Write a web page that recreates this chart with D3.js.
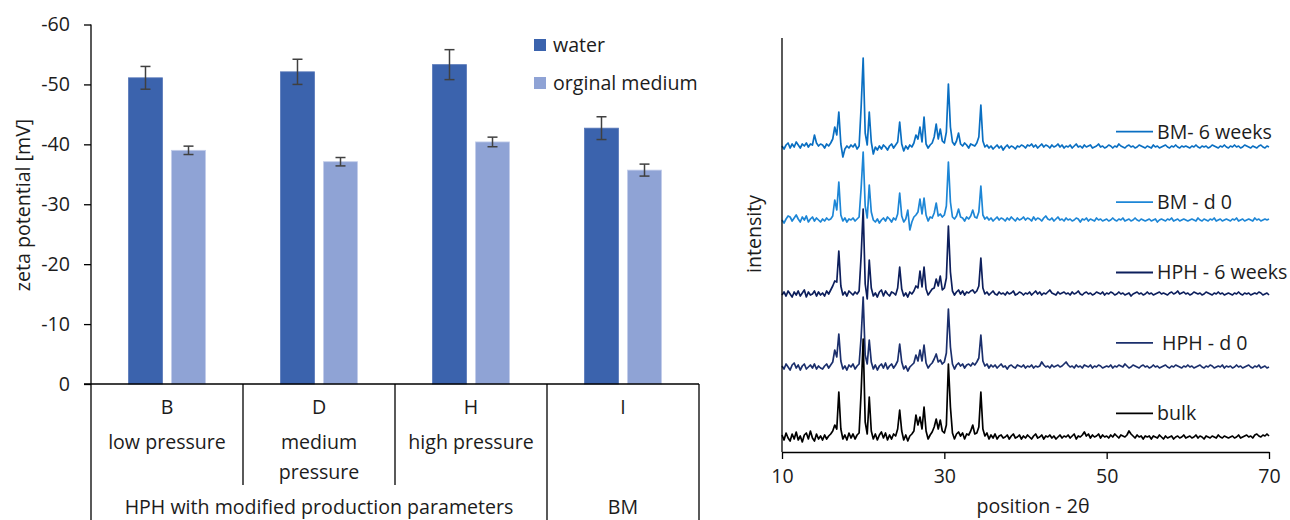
<!DOCTYPE html>
<html>
<head>
<meta charset="utf-8">
<script src="https://cdn.jsdelivr.net/npm/d3@7"></script>
<style>
  body { margin: 0; background: #fff; }
  svg { display: block; font-family: "Open Sans", sans-serif; }
</style>
</head>
<body>
<svg id="chart" width="1290" height="520"></svg>
<script>
// ---- zeta potential (left) ----
const categories = ["B", "D", "H", "I"];
const subLabels = [["low pressure"], ["medium", "pressure"], ["high pressure"], []];
const groupLabels = ["HPH with modified production parameters", "BM"];
const groupOfCategory = [0, 0, 0, 1];
const seriesNames = ["water", "orginal medium"];
const waterValues = [-51.1, -52.1, -53.3, -42.7];
const waterErrors = [1.9, 2.1, 2.5, 1.9];
const mediumValues = [-39.0, -37.1, -40.4, -35.7];
const mediumErrors = [0.7, 0.7, 0.8, 1.0];
const zetaTicks = [0, -10, -20, -30, -40, -50, -60];

// ---- XRD patterns (right), step 0.25° from 10° to 70° ----
const xrdStart = 10;
const xrdStep = 0.25;
const xrdTicks = [10, 30, 50, 70];
const traceNames = ["BM- 6 weeks", "BM - d 0", "HPH - 6 weeks", " HPH - d 0", "bulk"];
const traceOffsets = [305, 232, 158, 85, 15];

const bm6w = [
  1,-2,2,4,-1,3,0,5,2,-1,3,1,4,0,3,2,12,4,1,3,
  2,-1,3,1,4,8,20,12,35,3,-10,-2,1,-1,2,0,3,-2,1,40,
  89,14,2,35,5,-7,0,-3,1,-2,2,0,-3,1,3,-1,2,5,25,3,
  -4,1,-2,2,0,4,12,8,20,5,30,3,-1,2,4,10,23,8,18,6,
  4,15,63,20,5,2,6,14,3,1,4,2,-1,3,2,1,4,10,42,6,
  0,2,-1,1,-2,0,2,-1,1,-3,0,2,-1,1,0,-2,1,0,2,1,
  -1,2,1,3,0,2,-1,1,3,0,2,1,-1,2,0,1,3,0,2,-1,
  1,0,2,-1,1,3,0,1,-1,2,0,1,2,-1,0,1,3,0,1,-1,
  0,2,1,-1,1,0,3,1,0,-1,1,2,0,1,-1,0,2,1,0,-1,
  1,0,-1,2,0,1,-1,0,1,2,0,-1,1,0,2,0,-1,1,0,1,
  0,-1,1,0,2,0,-1,1,0,1,-1,0,2,1,0,-1,1,0,2,0,
  -1,1,0,2,0,1,-1,0,2,1,0,-1,1,0,-1,1,2,0,-1,1,
  0
];
const bmd0 = [
  0,-3,1,4,3,-1,2,5,1,-2,3,0,4,-2,1,3,-1,2,0,-2,
  1,-1,2,0,1,4,20,10,38,5,-1,2,-2,1,0,2,-1,1,3,32,
  68,14,2,35,8,0,-2,1,-3,0,2,-1,3,1,-2,2,0,6,27,4,
  -2,1,10,-10,-2,3,5,8,21,6,22,5,-1,3,2,7,17,4,6,3,
  5,14,58,18,3,1,4,11,3,2,-1,3,1,4,10,3,2,8,34,5,
  1,3,0,2,-1,1,3,0,2,1,-1,2,0,3,1,-1,2,0,1,3,
  0,2,1,-1,3,0,2,1,-1,2,4,1,0,2,-1,1,3,0,1,-1,
  2,0,1,-1,0,2,1,-2,1,0,2,-1,1,0,-1,2,0,1,-1,0,
  1,-1,0,2,0,-1,1,0,2,-1,0,1,-1,0,2,0,-1,1,0,-1,
  0,1,-1,0,1,-2,0,1,0,-1,1,0,2,-1,0,1,-1,0,1,0,
  -1,0,1,0,-1,2,0,-1,1,0,-1,1,0,2,-1,0,1,-1,0,1,
  0,-1,1,0,2,-1,0,1,-1,0,1,0,-1,2,0,1,-1,0,1,0,
  1
];
const hph6w = [
  -1,2,-2,3,0,-3,2,-1,3,-2,1,4,-3,2,-1,0,3,-2,2,-1,
  1,-2,3,0,4,8,13,12,43,8,-1,2,-2,3,1,-1,2,0,3,38,
  85,10,-5,34,6,-2,1,-3,2,4,-2,3,0,-2,2,1,-1,6,27,5,
  -2,1,-3,2,0,3,8,6,23,7,27,5,-1,2,5,6,15,8,18,4,
  6,16,68,22,3,-1,2,4,0,3,-1,2,1,3,4,1,3,8,36,6,
  0,2,-1,1,3,0,-1,2,0,1,-1,2,0,1,3,-1,0,2,1,-1,
  1,0,2,-1,1,3,0,2,-1,1,0,2,4,1,0,-1,2,0,1,2,
  0,1,-1,2,0,1,3,0,-1,1,2,0,1,-1,0,2,1,0,2,-1,
  1,0,2,1,-1,0,2,0,1,-1,0,1,-2,0,1,2,0,1,-1,0,
  2,0,1,-1,0,1,2,0,1,0,-1,1,2,0,1,3,0,1,2,0,
  1,-1,0,2,1,0,1,-1,0,2,1,0,-1,1,0,2,0,1,-1,0,
  1,0,-1,1,0,2,0,-1,1,0,1,-1,0,1,0,2,1,-1,0,1,
  -1
];
const hphd0 = [
  1,-2,3,0,-3,2,4,-1,2,-3,1,3,-2,0,2,-1,3,-2,1,-1,
  -2,1,3,-1,2,5,17,10,33,6,-2,1,-3,2,0,3,-2,1,3,30,
  70,12,3,27,5,-2,2,-3,1,3,-1,4,-2,1,3,-1,2,6,23,5,
  -2,1,-4,0,2,4,12,6,17,6,22,4,-1,2,4,8,13,5,7,3,
  5,14,58,20,3,-2,2,4,1,3,-1,2,3,1,4,2,5,9,32,6,
  1,3,-1,2,0,2,-1,1,3,0,1,-2,1,2,0,-1,2,1,0,2,
  -1,1,0,2,-1,1,0,1,5,2,0,1,-1,2,0,1,2,0,1,3,
  5,2,0,1,-1,2,0,1,-1,2,1,0,2,-1,1,0,2,1,-1,0,
  1,0,2,-1,1,0,2,1,0,3,1,-1,0,2,1,0,-1,1,2,0,
  1,-1,0,2,0,1,-1,0,1,2,0,-1,1,0,2,1,0,-1,1,0,
  2,0,1,-1,0,1,2,0,-1,1,0,2,1,-1,0,1,0,2,-1,1,
  0,1,-1,0,2,0,1,-1,0,1,2,0,-1,1,0,2,-1,0,1,-1,
  0
];
const bulk = [
  2,-3,4,-1,-4,3,-2,5,-3,1,-5,2,4,-2,6,-1,-4,3,-2,1,
  -3,2,-2,1,3,6,12,8,45,8,-2,2,-3,4,-1,3,-2,2,4,45,
  98,15,3,40,6,-2,3,-3,2,5,-1,4,-3,2,-2,3,1,8,27,6,
  -3,2,-4,1,3,6,22,12,20,8,30,6,-2,2,5,10,18,8,17,6,
  4,12,73,30,4,-2,3,5,1,4,-2,3,2,6,12,3,4,10,45,8,
  1,4,-2,2,-1,3,-2,1,2,-1,0,2,-2,1,3,-1,0,2,-2,1,
  -1,2,0,-2,1,3,-1,0,2,-2,1,0,2,-1,1,-2,0,2,-1,1,
  0,2,-1,1,3,-2,1,0,2,5,1,3,-1,2,0,1,3,-1,2,0,
  1,-1,2,0,3,1,-1,2,1,0,2,6,3,1,-1,2,0,1,-2,1,
  0,1,-2,1,0,-1,2,0,-2,1,-1,0,1,-2,0,1,-1,0,2,-1,
  0,1,-1,0,2,-1,1,0,-2,1,0,-1,1,0,-1,2,0,-1,1,0,
  -1,0,1,-1,0,2,-1,0,1,2,0,1,-1,2,3,1,0,2,1,3,
  1
];
const traces = [bm6w, bmd0, hph6w, hphd0, bulk];
const traceColors = ["#0a6fc2", "#1d86d6", "#0d1f5c", "#1b2f6c", "#000000"];

const svg = d3.select("#chart");
const fontSize = 19.6;
const textColor = "#1c1c1c";

// ================= left: bar chart =================
const barColors = ["#3b63ad", "#8fa3d5"];
const barStroke = ["#5677b8", "#c3cdea"];
const yZeta = d3.scaleLinear().domain([0, -60]).range([384, 24.5]);
const xCat = d3.scaleBand().domain(categories).range([91, 699]);
const xSeries = d3.scaleBand().domain(seriesNames).range([-38.5, 38.5]).paddingInner(0.21);

const left = svg.append("g");

// y axis ticks + labels
const yAxis = d3.axisLeft(yZeta)
  .tickValues(zetaTicks)
  .tickSize(7)
  .tickPadding(14)
  .tickFormat(d => d === 0 ? "0" : "-" + Math.abs(d));
const yAxisG = left.append("g").attr("transform", "translate(91,0)").call(yAxis);
yAxisG.select(".domain").remove();
yAxisG.selectAll(".tick line").attr("stroke", "#000").attr("stroke-width", 1.3);
yAxisG.selectAll(".tick text")
  .attr("font-size", fontSize).attr("font-family", "Open Sans").attr("fill", textColor);

left.append("text")
  .attr("transform", "translate(30,205) rotate(-90)")
  .attr("text-anchor", "middle")
  .attr("font-size", fontSize)
  .attr("fill", textColor)
  .text("zeta potential [mV]");

// bars
const barData = [];
categories.forEach((c, i) => {
  barData.push({ cat: c, s: seriesNames[0], v: waterValues[i], e: waterErrors[i], k: 0 });
  barData.push({ cat: c, s: seriesNames[1], v: mediumValues[i], e: mediumErrors[i], k: 1 });
});
const bx = d => xCat(d.cat) + xCat.bandwidth() / 2 + xSeries(d.s);

left.selectAll("rect.bar")
  .data(barData)
  .join("rect")
  .attr("class", "bar")
  .attr("x", bx)
  .attr("width", xSeries.bandwidth())
  .attr("y", d => yZeta(d.v))
  .attr("height", d => yZeta(0) - yZeta(d.v))
  .attr("fill", d => barColors[d.k])
  .attr("stroke", d => barStroke[d.k])
  .attr("stroke-width", 0.8);

// error bars
const err = left.selectAll("g.err").data(barData).join("g").attr("class", "err")
  .attr("stroke", "#404040").attr("stroke-width", 1.5);
const ex = d => bx(d) + xSeries.bandwidth() / 2;
err.append("line")
  .attr("x1", ex).attr("x2", ex)
  .attr("y1", d => yZeta(d.v - d.e)).attr("y2", d => yZeta(d.v + d.e));
err.append("line")
  .attr("x1", d => ex(d) - 5).attr("x2", d => ex(d) + 5)
  .attr("y1", d => yZeta(d.v - d.e)).attr("y2", d => yZeta(d.v - d.e));
err.append("line")
  .attr("x1", d => ex(d) - 5).attr("x2", d => ex(d) + 5)
  .attr("y1", d => yZeta(d.v + d.e)).attr("y2", d => yZeta(d.v + d.e));

// category axis frame
const catX0 = xCat.range()[0];
const catX1 = xCat.range()[1];
left.append("line")
  .attr("x1", catX0).attr("x2", catX0)
  .attr("y1", yZeta(-60)).attr("y2", 520)
  .attr("stroke", "#000").attr("stroke-width", 1.3);
left.append("line")
  .attr("x1", catX0 - 7).attr("x2", catX1)
  .attr("y1", yZeta(0)).attr("y2", yZeta(0))
  .attr("stroke", "#000").attr("stroke-width", 1.3);
categories.forEach((c, i) => {
  const xr = xCat(c) + xCat.bandwidth();
  const groupEnd = i === categories.length - 1 || groupOfCategory[i] !== groupOfCategory[i + 1];
  left.append("line")
    .attr("x1", xr).attr("x2", xr)
    .attr("y1", yZeta(0)).attr("y2", groupEnd ? 520 : 485)
    .attr("stroke", "#000").attr("stroke-width", 1.3);
});

// category labels
categories.forEach((c, i) => {
  const cx = xCat(c) + xCat.bandwidth() / 2;
  left.append("text")
    .attr("x", cx).attr("y", 414)
    .attr("text-anchor", "middle").attr("font-size", fontSize).attr("fill", textColor)
    .text(c);
  subLabels[i].forEach((s, j) => {
    left.append("text")
      .attr("x", cx).attr("y", 449 + j * 30)
      .attr("text-anchor", "middle").attr("font-size", fontSize).attr("fill", textColor)
      .text(s);
  });
});
groupLabels.forEach((g, gi) => {
  const members = categories.filter((c, i) => groupOfCategory[i] === gi);
  const gx0 = xCat(members[0]);
  const gx1 = xCat(members[members.length - 1]) + xCat.bandwidth();
  left.append("text")
    .attr("x", (gx0 + gx1) / 2).attr("y", 514)
    .attr("text-anchor", "middle").attr("font-size", fontSize).attr("fill", textColor)
    .text(g);
});

// legend
seriesNames.forEach((s, i) => {
  const ly = 45 + i * 38;
  left.append("rect")
    .attr("x", 534).attr("y", ly - 6).attr("width", 12).attr("height", 12)
    .attr("fill", barColors[i]);
  left.append("text")
    .attr("x", 553).attr("y", ly).attr("dy", "0.35em")
    .attr("font-size", fontSize).attr("fill", textColor)
    .text(s);
});

// ================= right: XRD =================
const xPos = d3.scaleLinear().domain([10, 70]).range([782, 1269]);
const yInt = d3.scaleLinear().domain([0, 414]).range([452, 38]);
const right = svg.append("g");

const line = d3.line()
  .x((d, i) => xPos(xrdStart + i * xrdStep))
  .y(d => yInt(d));

traces.forEach((t, k) => {
  right.append("path")
    .datum(t.map(v => v + traceOffsets[k]))
    .attr("d", line)
    .attr("fill", "none")
    .attr("stroke", traceColors[k])
    .attr("stroke-width", 1.7)
    .attr("stroke-linejoin", "round");
});

const xAxis = d3.axisBottom(xPos).tickValues(xrdTicks).tickSize(7).tickSizeOuter(0).tickPadding(10);
const xAxisG = right.append("g").attr("transform", `translate(0,${yInt(0)})`).call(xAxis);
xAxisG.select(".domain").attr("stroke", "#000").attr("stroke-width", 1.3);
xAxisG.selectAll(".tick line").attr("stroke", "#000").attr("stroke-width", 1.3);
xAxisG.selectAll(".tick text")
  .attr("font-size", fontSize).attr("font-family", "Open Sans").attr("fill", textColor);

right.append("line")
  .attr("x1", xPos(10)).attr("x2", xPos(10))
  .attr("y1", yInt(414)).attr("y2", yInt(0))
  .attr("stroke", "#000").attr("stroke-width", 1.3);

right.append("text")
  .attr("x", 1033).attr("y", 513)
  .attr("text-anchor", "middle").attr("font-size", fontSize).attr("fill", textColor)
  .text("position - 2θ");

right.append("text")
  .attr("transform", "translate(761,234) rotate(-90)")
  .attr("text-anchor", "middle").attr("font-size", fontSize).attr("fill", textColor)
  .text("intensity");

// legend
traceNames.forEach((n, k) => {
  const ly = 131.7 + k * 70.4;
  right.append("line")
    .attr("x1", 1116).attr("x2", 1153).attr("y1", ly).attr("y2", ly)
    .attr("stroke", traceColors[k]).attr("stroke-width", 1.8);
  right.append("text")
    .attr("x", 1157).attr("y", ly).attr("dy", "0.35em")
    .attr("font-size", fontSize).attr("fill", textColor)
    .style("white-space", "pre")
    .text(n);
});
</script>
</body>
</html>
